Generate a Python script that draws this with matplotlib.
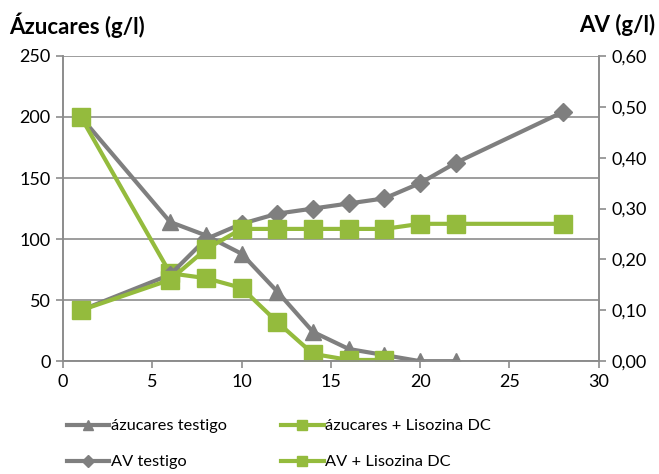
import numpy as np
import matplotlib.pyplot as plt
from matplotlib.ticker import FuncFormatter

plt.rcParams['font.family'] = ['Lato', 'DejaVu Sans']

gris = '#7f7f7f'
verde = '#94bb3d'

# días de muestreo
dias_az_testigo = [1, 6, 8, 10, 12, 14, 16, 18, 20, 22]
az_testigo = [200, 114, 103, 88, 57, 24, 10, 5, 0, 0]

dias_az_lis = [1, 6, 8, 10, 12, 14, 16, 18]
az_lis = [200, 72, 68, 60, 32, 6, 1, 1]

dias_av = [1, 6, 8, 10, 12, 14, 16, 18, 20, 22, 28]
av_testigo = [0.10, 0.17, 0.24, 0.27, 0.29, 0.30, 0.31, 0.32, 0.35, 0.39, 0.49]
av_lis = [0.10, 0.16, 0.22, 0.26, 0.26, 0.26, 0.26, 0.26, 0.27, 0.27, 0.27]

fig = plt.figure(figsize=(6.59, 4.74), dpi=100)
ax = fig.add_axes([0.0956, 0.238, 0.813, 0.644])
ax2 = ax.twinx()

l1, = ax.plot(dias_az_testigo, az_testigo, color=gris, lw=3, marker='^', ms=12,
              label='ázucares testigo', zorder=3)
l2, = ax.plot(dias_az_lis, az_lis, color=verde, lw=3, marker='s', ms=13,
              label='ázucares + Lisozina DC', zorder=4)
l3, = ax2.plot(dias_av, av_testigo, color=gris, lw=3, marker='D', ms=9.5,
               label='AV testigo', zorder=3)
l4, = ax2.plot(dias_av, av_lis, color=verde, lw=3, marker='s', ms=13,
               label='AV + Lisozina DC', zorder=4)

ax.set_xlim(0, 30)
ax.set_ylim(0, 250)
ax2.set_ylim(0, 0.60)
ax.set_xticks(np.arange(0, 31, 5))
ax.set_yticks(np.arange(0, 251, 50))
ax2.set_yticks(np.arange(0, 0.61, 0.1))
ax2.yaxis.set_major_formatter(FuncFormatter(lambda v, p: f'{v:.2f}'.replace('.', ',')))

ax.grid(axis='y', color='#8c8c8c', lw=1.2)
ax.set_axisbelow(True)
for a in (ax, ax2):
    a.spines['top'].set_visible(False)
    for s in ('left', 'right', 'bottom'):
        a.spines[s].set_color('#8c8c8c')
        a.spines[s].set_linewidth(1.2)
    a.tick_params(colors='#8c8c8c', labelcolor='black', labelsize=13, length=5,
                  width=1.2, pad=4)

fig.text(0.014, 0.947, 'Ázucares (g/l)', fontsize=16, fontweight='bold', va='center', ha='left')
fig.text(0.995, 0.947, 'AV (g/l)', fontsize=16, fontweight='bold', va='center', ha='right')

fig.legend([l1, l3, l2, l4],
           ['ázucares testigo', 'AV testigo', 'ázucares + Lisozina DC', 'AV + Lisozina DC'],
           ncol=2, loc='center left', bbox_to_anchor=(0.089, 0.063), frameon=False,
           fontsize=11.8, handlelength=2.6, handletextpad=0.1, columnspacing=3.3,
           labelspacing=1.3, markerscale=0.6, borderpad=0)

fig.savefig('out.png', dpi=100)
